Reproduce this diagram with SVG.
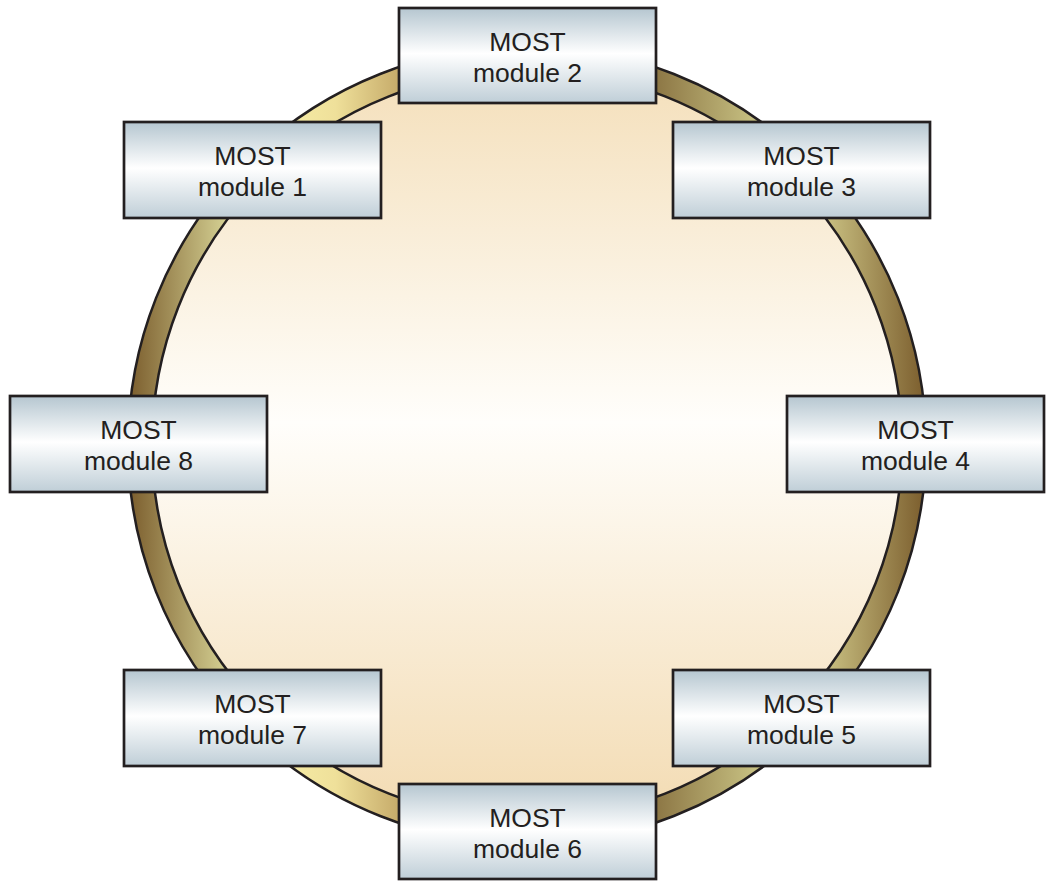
<svg xmlns="http://www.w3.org/2000/svg" width="1047" height="881" viewBox="0 0 1047 881">
  <defs>
    <linearGradient id="ringGrad" gradientUnits="userSpaceOnUse" x1="128" y1="0" x2="926" y2="0">
      <stop offset="0" stop-color="#7a5c2c"/>
      <stop offset="0.12" stop-color="#d2cd90"/>
      <stop offset="0.2" stop-color="#f5eba4"/>
      <stop offset="0.26" stop-color="#efe09a"/>
      <stop offset="0.34" stop-color="#c6ab6a"/>
      <stop offset="0.5" stop-color="#a08650"/>
      <stop offset="0.66" stop-color="#8c7644"/>
      <stop offset="0.79" stop-color="#c9c384"/>
      <stop offset="0.88" stop-color="#c6bc7e"/>
      <stop offset="1" stop-color="#7a5c2c"/>
    </linearGradient>
    <linearGradient id="innerGrad" gradientUnits="userSpaceOnUse" x1="0" y1="70" x2="0" y2="820">
      <stop offset="0" stop-color="#f4dfba"/>
      <stop offset="0.47" stop-color="#fffefb"/>
      <stop offset="1" stop-color="#f3dbb2"/>
    </linearGradient>
    <linearGradient id="boxGrad" x1="0" y1="0" x2="0" y2="1">
      <stop offset="0" stop-color="#b5c6d0"/>
      <stop offset="0.48" stop-color="#ffffff"/>
      <stop offset="1" stop-color="#bfced7"/>
    </linearGradient>
  </defs>
  <style>
    .box { fill: url(#boxGrad); stroke: #231f20; stroke-width: 2.7; }
    .lbl { font-family: "Liberation Sans", Arial, sans-serif; font-size: 26.5px; fill: #231f20; text-anchor: middle; }
  </style>
  <rect width="1047" height="881" fill="#ffffff"/>
  <g id="connectors">
    <circle cx="527" cy="445" r="376" fill="url(#innerGrad)"/>
    <path d="M128,445 a399,399 0 1,0 798,0 a399,399 0 1,0 -798,0 Z M152,445 a375,375 0 1,0 750,0 a375,375 0 1,0 -750,0 Z" fill="url(#ringGrad)" fill-rule="evenodd" stroke="#231f20" stroke-width="2.5"/>
  </g>
  <g id="module2">
    <rect class="box" x="399" y="8" width="257" height="95"/>
    <text class="lbl" x="527.5" y="51">MOST</text>
    <text class="lbl" x="527.5" y="82">module 2</text>
  </g>
  <g id="module1">
    <rect class="box" x="124" y="122" width="257" height="96"/>
    <text class="lbl" x="252.5" y="165">MOST</text>
    <text class="lbl" x="252.5" y="196">module 1</text>
  </g>
  <g id="module3">
    <rect class="box" x="673" y="122" width="257" height="96"/>
    <text class="lbl" x="801.5" y="165">MOST</text>
    <text class="lbl" x="801.5" y="196">module 3</text>
  </g>
  <g id="module8">
    <rect class="box" x="10" y="396" width="257" height="96"/>
    <text class="lbl" x="138.5" y="439">MOST</text>
    <text class="lbl" x="138.5" y="470">module 8</text>
  </g>
  <g id="module4">
    <rect class="box" x="787" y="396" width="257" height="96"/>
    <text class="lbl" x="915.5" y="439">MOST</text>
    <text class="lbl" x="915.5" y="470">module 4</text>
  </g>
  <g id="module7">
    <rect class="box" x="124" y="670" width="257" height="96"/>
    <text class="lbl" x="252.5" y="713">MOST</text>
    <text class="lbl" x="252.5" y="744">module 7</text>
  </g>
  <g id="module5">
    <rect class="box" x="673" y="670" width="257" height="96"/>
    <text class="lbl" x="801.5" y="713">MOST</text>
    <text class="lbl" x="801.5" y="744">module 5</text>
  </g>
  <g id="module6">
    <rect class="box" x="399" y="784" width="257" height="95"/>
    <text class="lbl" x="527.5" y="827">MOST</text>
    <text class="lbl" x="527.5" y="858">module 6</text>
  </g>
</svg>
